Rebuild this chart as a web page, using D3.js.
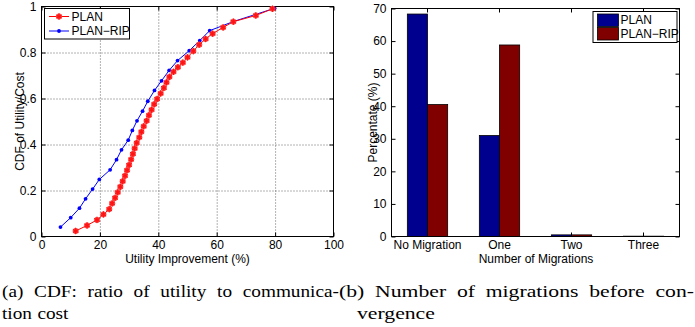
<!DOCTYPE html>
<html>
<head>
<meta charset="utf-8">
<script src="https://cdn.jsdelivr.net/npm/d3@7"></script>
<style>
  body { margin: 0; background: #fff; }
  svg { display: block; font-family: "Liberation Sans", Arial, sans-serif; }
  .grid line { stroke: #666; stroke-width: 1px; stroke-dasharray: 1 2; }
</style>
</head>
<body>
<div id="app"></div>
<script>
// ---- data ----
const planCdf = [
  [11.7,0.024],[15.6,0.048],[19.0,0.072],[21.2,0.096],[23.2,0.119],[24.2,0.144],
  [25.2,0.168],[26.1,0.192],[27.0,0.216],[27.8,0.240],[28.6,0.264],[29.3,0.288],
  [30.0,0.311],[30.7,0.335],[31.3,0.359],[31.9,0.383],[32.6,0.407],[33.5,0.431],
  [34.2,0.455],[35.0,0.479],[36.0,0.503],[36.8,0.527],[37.7,0.551],[38.6,0.575],
  [39.6,0.598],[40.8,0.622],[41.9,0.646],[42.8,0.670],[43.8,0.694],[45.2,0.716],
  [46.7,0.736],[48.4,0.756],[50.0,0.779],[52.0,0.806],[54.0,0.834],[56.2,0.859],
  [58.6,0.882],[62.2,0.909],[65.7,0.934],[73.4,0.961],[79.1,0.990]
]
const ripCdf = [
  [6.5,0.041],[10.0,0.082],[13.0,0.123],[15.1,0.164],[17.5,0.206],[19.8,0.248],
  [23.5,0.290],[25.7,0.334],[27.4,0.377],[29.7,0.419],[31.1,0.461],[32.7,0.503],
  [34.6,0.545],[36.4,0.588],[38.7,0.635],[41.1,0.677],[43.7,0.722],[46.6,0.765],
  [50.6,0.808],[54.2,0.852],[57.6,0.895],[65.8,0.935],[79.8,0.992]
]
const cdfXTicks = [0, 20, 40, 60, 80, 100]
const cdfYTicks = [0, 0.2, 0.4, 0.6, 0.8, 1]

const migCategories = ["No Migration", "One", "Two", "Three"]
const migSeries = ["PLAN", "PLAN\u2212RIP"]
const migPlan = [68.3, 31.0, 0.5, 0.1]
const migRip = [40.5, 58.8, 0.5, 0.1]
const migYTicks = [0, 10, 20, 30, 40, 50, 60, 70]

const captionA = ["(a) CDF: ratio of utility to communica-", "tion cost"]
const captionB = ["(b) Number of migrations before con-", "vergence"]

const W = 695, H = 327
const svg = d3.select("#app").append("svg")
  .attr("width", W)
  .attr("height", H)

const fontSize = 12
const tickLen = 4

function box(g, x0, x1, y0, y1) {
  g.append("rect")
    .attr("x", x0).attr("y", y1)
    .attr("width", x1 - x0).attr("height", y0 - y1)
    .attr("fill", "none").attr("stroke", "#000").attr("stroke-width", 1)
}

// ================= left: CDF =================
const fx = d3.scaleLinear().domain([0, 100]).range([41.5, 333.5])
const fy = d3.scaleLinear().domain([0, 1]).range([236.5, 6.5])

let gl = svg.append("g")

// dotted grid, drawn as full-length ticks
gl.append("g")
  .attr("class", "grid")
  .attr("transform", `translate(0,${fy(0)})`)
  .call(d3.axisBottom(fx).tickValues(cdfXTicks.slice(1, -1)).tickSize(fy(1) - fy(0)).tickFormat(""))
gl.append("g")
  .attr("class", "grid")
  .attr("transform", `translate(${fx(0)},0)`)
  .call(d3.axisLeft(fy).tickValues(cdfYTicks.slice(1, -1)).tickSize(fx(0) - fx(100)).tickFormat(""))

// axes, ticks inward on all four sides
gl.append("g")
  .attr("transform", `translate(0,${fy(0)})`)
  .call(d3.axisBottom(fx).tickValues(cdfXTicks).tickSize(-tickLen).tickPadding(4).tickFormat(d3.format("d")))
gl.append("g")
  .attr("transform", `translate(0,${fy(1)})`)
  .call(d3.axisTop(fx).tickValues(cdfXTicks).tickSize(-tickLen).tickFormat(""))
gl.append("g")
  .attr("transform", `translate(${fx(0)},0)`)
  .call(d3.axisLeft(fy).tickValues(cdfYTicks).tickSize(-tickLen).tickPadding(5).tickFormat(d => d === 0 || d === 1 ? d : d3.format(".1f")(d)))
gl.append("g")
  .attr("transform", `translate(${fx(100)},0)`)
  .call(d3.axisRight(fy).tickValues(cdfYTicks).tickSize(-tickLen).tickFormat(""))
box(gl, fx(0), fx(100), fy(0), fy(1))

const line = d3.line().x(d => fx(d[0])).y(d => fy(d[1]))

gl.append("path")
  .datum(ripCdf)
  .attr("d", line)
  .attr("fill", "none").attr("stroke", "#0000ff").attr("stroke-width", 1)
gl.append("g").selectAll("circle")
  .data(ripCdf)
  .join("circle")
    .attr("cx", d => fx(d[0])).attr("cy", d => fy(d[1]))
    .attr("r", 1.9).attr("fill", "#0000ff")

gl.append("path")
  .datum(planCdf)
  .attr("d", line)
  .attr("fill", "none").attr("stroke", "#ff0000").attr("stroke-width", 1)

const star = d3.symbol().type(d3.symbolAsterisk).size(28)
function redMarker(sel) {
  sel.append("circle").attr("r", 2.7).attr("fill", "#ff2a2a").attr("stroke", "#ff5050").attr("stroke-width", 0.8)
  sel.append("path").attr("d", star).attr("fill", "none").attr("stroke", "#ff1010").attr("stroke-width", 1)
}
gl.append("g").selectAll("g")
  .data(planCdf)
  .join("g")
    .attr("transform", d => `translate(${fx(d[0])},${fy(d[1])})`)
    .call(redMarker)

// x / y labels
gl.append("text")
  .attr("x", (fx(0) + fx(100)) / 2).attr("y", 263)
  .attr("text-anchor", "middle").attr("font-size", fontSize)
  .text("Utility Improvement (%)")
gl.append("text")
  .attr("transform", `translate(24,${(fy(0) + fy(1)) / 2}) rotate(-90)`)
  .attr("text-anchor", "middle").attr("font-size", fontSize)
  .text("CDF of Utility/Cost")

// legend
let lg = gl.append("g")
lg.append("rect")
  .attr("x", 44.5).attr("y", 8.5).attr("width", 85).attr("height", 30.5)
  .attr("fill", "#fff").attr("stroke", "#000").attr("stroke-width", 1)
const legendCdf = [
  { name: "PLAN", color: "#ff0000", y: 16.5, red: true },
  { name: "PLAN\u2212RIP", color: "#0000ff", y: 31, red: false }
]
legendCdf.forEach(e => {
  lg.append("line").attr("x1", 49).attr("x2", 69).attr("y1", e.y).attr("y2", e.y)
    .attr("stroke", e.color).attr("stroke-width", 1)
  if (e.red) lg.append("g").attr("transform", `translate(59,${e.y})`).call(redMarker)
  else lg.append("circle").attr("cx", 59).attr("cy", e.y).attr("r", 1.9).attr("fill", e.color)
  lg.append("text").attr("x", 71.5).attr("y", e.y).attr("dy", "0.35em")
    .attr("font-size", fontSize).text(e.name)
})

// ================= right: migrations =================
const bx = d3.scaleBand().domain(migCategories).range([391.5, 679.5]).paddingInner(0.44).paddingOuter(0.22)
const bs = d3.scaleBand().domain(migSeries).range([0, bx.bandwidth()])
const by = d3.scaleLinear().domain([0, 70]).range([236.5, 8.5])
const seriesColor = { "PLAN": "#00008f", "PLAN\u2212RIP": "#800000" }
const migRows = migCategories.map((c, i) => ({ cat: c, values: [migPlan[i], migRip[i]] }))

let gr = svg.append("g")

gr.append("g")
  .attr("transform", `translate(0,${by(0)})`)
  .call(d3.axisBottom(bx).tickSize(-tickLen).tickPadding(4))
gr.append("g")
  .attr("transform", `translate(0,${by(70)})`)
  .call(d3.axisTop(bx).tickSize(-tickLen).tickFormat(""))
gr.append("g")
  .attr("transform", `translate(391.5,0)`)
  .call(d3.axisLeft(by).tickValues(migYTicks).tickSize(-tickLen).tickPadding(5))
gr.append("g")
  .attr("transform", `translate(679.5,0)`)
  .call(d3.axisRight(by).tickValues(migYTicks).tickSize(-tickLen).tickFormat(""))

gr.append("g").selectAll("g")
  .data(migRows)
  .join("g")
    .attr("transform", d => `translate(${bx(d.cat)},0)`)
  .selectAll("rect")
  .data(d => d.values.map((v, j) => ({ s: migSeries[j], v })))
  .join("rect")
    .attr("x", d => bs(d.s))
    .attr("width", bs.bandwidth())
    .attr("y", d => by(d.v))
    .attr("height", d => by(0) - by(d.v))
    .attr("fill", d => seriesColor[d.s])
    .attr("stroke", "#000").attr("stroke-width", 0.8)

box(gr, 391.5, 679.5, by(0), by(70))

gr.append("text")
  .attr("x", 536).attr("y", 263)
  .attr("text-anchor", "middle").attr("font-size", fontSize)
  .text("Number of Migrations")
gr.append("text")
  .attr("transform", `translate(377,${(by(0) + by(70)) / 2}) rotate(-90)`)
  .attr("text-anchor", "middle").attr("font-size", fontSize)
  .text("Percentate (%)")

let rl = gr.append("g")
rl.append("rect")
  .attr("x", 593).attr("y", 11.5).attr("width", 84).attr("height", 31)
  .attr("fill", "#fff").attr("stroke", "#000").attr("stroke-width", 1)
migSeries.forEach((s, i) => {
  const yc = 20 + i * 13.5
  rl.append("rect").attr("x", 597.5).attr("y", yc - 6).attr("width", 21).attr("height", 12.5)
    .attr("fill", seriesColor[s]).attr("stroke", "#000").attr("stroke-width", 0.8)
  rl.append("text").attr("x", 620.5).attr("y", yc).attr("dy", "0.35em")
    .attr("font-size", fontSize).text(s)
})

svg.selectAll(".tick text").attr("font-size", fontSize).attr("fill", "#000")
svg.selectAll("g").filter(function () { return this.getAttribute("font-family") }).attr("font-family", null)
svg.selectAll(".domain").remove()
svg.selectAll(":not(.grid) > .tick line").attr("stroke", "#000")

// ================= captions (justified, glyphs a bit wide like the scan) =================
function justified(x0, x1, y, str, justify, stretch) {
  const g = svg.append("g")
  const words = str.split(" ")
  const nodes = words.map(w => g.append("text")
    .style("font-family", "'Liberation Serif', 'Times New Roman', serif")
    .style("font-size", "17.5px")
    .text(w))
  const widths = nodes.map(n => n.node().getComputedTextLength() * stretch)
  const total = d3.sum(widths)
  const gap = justify && words.length > 1 ? (x1 - x0 - total) / (words.length - 1) : 5.5
  let x = x0
  nodes.forEach((n, i) => {
    n.attr("transform", `translate(${x},${y}) scale(${stretch},1)`)
    x += widths[i] + gap
  })
}
justified(2, 339, 296.5, captionA[0], true, 1.1)
justified(2, 339, 318.5, captionA[1], false, 1.1)
justified(339, 694, 296.5, captionB[0], true, 1.24)
justified(357, 694, 318.5, captionB[1], false, 1.24)
</script>
</body>
</html>
